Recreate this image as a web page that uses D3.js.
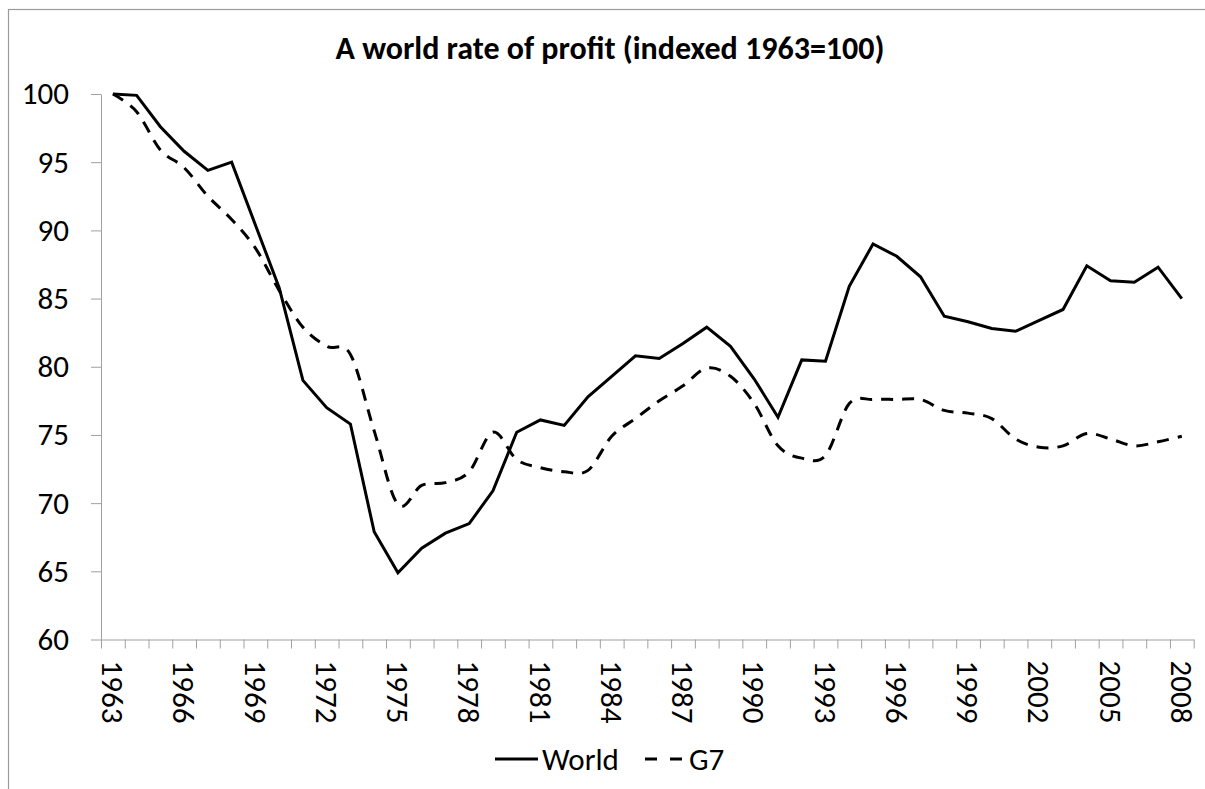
<!DOCTYPE html>
<html>
<head>
<meta charset="utf-8">
<script src="https://cdn.jsdelivr.net/npm/d3@7"></script>
<style>
  body { margin: 0; background: #fff; }
  text { font-family: Calibri, Carlito, Lato, sans-serif; fill: #000; }
  .axis path, .axis line { stroke: #a0a0a0; }
</style>
</head>
<body>
<svg id="chart"></svg>
<script>
        const years = d3.range(1963, 2009)

        // indexed 1963 = 100
        const world = [100, 99.9, 97.6, 95.8, 94.4, 95.0, 90.4, 85.8, 79.0, 77.0,
            75.8, 67.9, 64.9, 66.7, 67.8, 68.5, 70.9, 75.2, 76.1, 75.7,
            77.8, 79.3, 80.8, 80.6, 81.7, 82.9, 81.5, 79.1, 76.3, 80.5,
            80.4, 85.9, 89.0, 88.1, 86.6, 83.7, 83.3, 82.8, 82.6, 83.4,
            84.2, 87.4, 86.3, 86.2, 87.3, 85.0]

        const g7 = [100, 98.7, 95.9, 94.6, 92.5, 90.8, 88.7, 85.6, 82.9, 81.5,
            80.9, 75.3, 69.9, 71.3, 71.5, 72.3, 75.2, 73.2, 72.6, 72.3,
            72.4, 74.9, 76.2, 77.5, 78.6, 79.9, 79.3, 77.3, 74.2, 73.3,
            73.5, 77.3, 77.6, 77.6, 77.6, 76.8, 76.6, 76.2, 74.7, 74.1,
            74.2, 75.1, 74.7, 74.2, 74.5, 74.9]

        const yTicks = [60, 65, 70, 75, 80, 85, 90, 95, 100]
        const labelYears = years.filter((d, i) => i % 3 == 0)
        const seriesNames = ['World', 'G7']

        let w = 1205
        let h = 789
        let plotLeft = 101, plotRight = 1193.7, plotTop = 94, plotBottom = 639.5
        let fontSize = 31

        let svg = d3.select('#chart')
            .attr('width', w)
            .attr('height', h)

        // outer chart frame, runs off the right and bottom edges
        svg.append('rect')
            .attr('x', 8.5)
            .attr('y', 9.5)
            .attr('width', 1300)
            .attr('height', 900)
            .attr('fill', 'none')
            .attr('stroke', '#9a9a9a')
            .attr('stroke-width', 1.2)

        let xScale = d3.scaleBand(years, [plotLeft, plotRight]).padding(0)
        let edgeScale = d3.scaleLinear([0, years.length], [plotLeft, plotRight])
        let yScale = d3.scaleLinear([60, 100], [plotBottom, plotTop])

        // y axis
        let yAxis = svg.append('g')
            .attr('class', 'axis')
            .attr('transform', `translate(${plotLeft}, 0)`)
            .call(d3.axisLeft(yScale).tickValues(yTicks).tickSize(10).tickSizeOuter(0).tickPadding(22))
        yAxis.selectAll('text')
            .attr('font-size', fontSize)
            .attr('font-family', null)

        // x axis: ticks between categories
        svg.append('g')
            .attr('class', 'axis')
            .attr('transform', `translate(0, ${plotBottom})`)
            .call(d3.axisBottom(edgeScale).tickValues(d3.range(years.length + 1)).tickSize(9).tickSizeOuter(0).tickFormat(''))

        let xLabels = svg.append('g')
            .attr('transform', `translate(0, ${plotBottom})`)
            .call(d3.axisBottom(xScale).tickValues(labelYears).tickSize(0).tickSizeOuter(0))
        xLabels.select('.domain').remove()
        xLabels.selectAll('text')
            .attr('font-size', fontSize)
            .attr('font-family', null)
            .attr('text-anchor', 'start')
            .attr('y', 0)
            .attr('dy', '0.35em')
            .attr('transform', 'translate(0, 21) rotate(90)')

        let cx = d => xScale(d) + xScale.bandwidth() / 2

        let worldLine = d3.line()
            .x((d, i) => cx(years[i]))
            .y(d => yScale(d))

        let g7Line = d3.line()
            .x((d, i) => cx(years[i]))
            .y(d => yScale(d))
            .curve(d3.curveCardinal)

        svg.append('path')
            .datum(g7)
            .attr('d', g7Line)
            .attr('fill', 'none')
            .attr('stroke', '#000')
            .attr('stroke-width', 3)
            .attr('stroke-dasharray', '12,9')

        svg.append('path')
            .datum(world)
            .attr('d', worldLine)
            .attr('fill', 'none')
            .attr('stroke', '#000')
            .attr('stroke-width', 3)
            .attr('stroke-linejoin', 'miter')

        // title
        svg.append('text')
            .attr('x', 610)
            .attr('y', 59)
            .attr('text-anchor', 'middle')
            .attr('font-size', 32)
            .attr('font-weight', 'bold')
            .text('A world rate of profit (indexed 1963=100)')

        // legend
        let legend = svg.append('g').attr('transform', 'translate(495, 759)')
        legend.append('line')
            .attr('x1', 0).attr('x2', 43)
            .attr('stroke', '#000').attr('stroke-width', 3)
        legend.append('text')
            .attr('x', 47).attr('dy', '0.35em')
            .attr('font-size', fontSize)
            .text(seriesNames[0])
        legend.append('line')
            .attr('x1', 150).attr('x2', 187)
            .attr('stroke', '#000').attr('stroke-width', 3)
            .attr('stroke-dasharray', '12,13')
        legend.append('text')
            .attr('x', 194).attr('dy', '0.35em')
            .attr('font-size', fontSize)
            .text(seriesNames[1])
</script>
</body>
</html>
